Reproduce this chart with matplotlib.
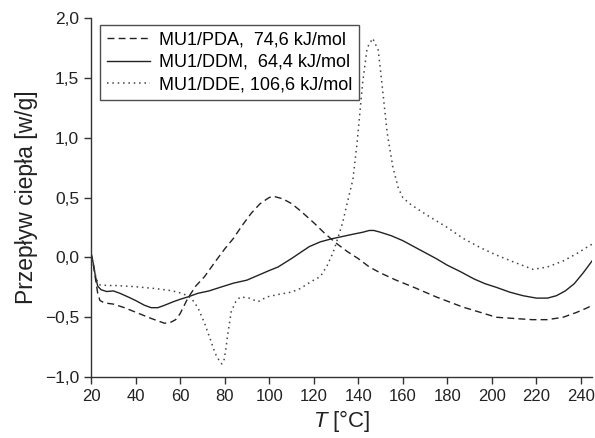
import matplotlib
matplotlib.use("Agg")
import matplotlib.pyplot as plt
from matplotlib.ticker import FuncFormatter, MultipleLocator

plt.rcParams['font.family'] = ['Liberation Sans', 'DejaVu Sans']
plt.rcParams['mathtext.fontset'] = 'custom'
plt.rcParams['mathtext.rm'] = 'Liberation Sans'
plt.rcParams['mathtext.it'] = 'Liberation Sans:italic'

# MU1/PDA (dashed)
T_pda = [20, 21, 22, 23, 24, 26, 30, 35, 41, 47, 53, 56, 58, 60, 63.5, 67, 71, 76, 80, 84,
         88, 92, 96, 100, 102, 106, 110, 114, 120, 125, 130, 135, 140, 145, 150, 157, 165,
         175, 187, 195, 202, 210, 218, 225, 232, 238, 243, 245]
q_pda = [0.03, -0.05, -0.18, -0.30, -0.36, -0.38, -0.39, -0.42, -0.465, -0.51, -0.55, -0.54,
         -0.52, -0.47, -0.34, -0.24, -0.16, -0.03, 0.07, 0.16, 0.27, 0.37, 0.45, 0.50, 0.51,
         0.49, 0.45, 0.39, 0.29, 0.20, 0.12, 0.05, -0.01, -0.08, -0.13, -0.19, -0.25, -0.33,
         -0.415, -0.46, -0.50, -0.51, -0.52, -0.52, -0.50, -0.46, -0.42, -0.40]

# MU1/DDM (solid)
T_ddm = [20, 21, 22, 23, 24.5, 27, 30, 33, 36.6, 40, 44, 47, 50, 53, 57, 60, 63.5, 68, 73, 78,
         84, 90, 95, 100, 104, 110, 114, 118, 123, 128, 133, 138, 142, 145, 147, 150, 155,
         160, 165, 170, 175, 180, 186, 192, 197, 202, 208, 214, 220, 225, 229, 233, 237,
         241, 245]
q_ddm = [0.04, -0.05, -0.16, -0.24, -0.27, -0.285, -0.28, -0.30, -0.33, -0.36, -0.40, -0.42,
         -0.42, -0.40, -0.37, -0.35, -0.33, -0.30, -0.28, -0.25, -0.215, -0.19, -0.15, -0.11,
         -0.08, -0.01, 0.04, 0.09, 0.13, 0.155, 0.175, 0.195, 0.21, 0.225, 0.225, 0.21, 0.18,
         0.14, 0.09, 0.04, -0.01, -0.065, -0.12, -0.18, -0.22, -0.25, -0.29, -0.32, -0.34,
         -0.34, -0.32, -0.28, -0.22, -0.13, -0.03]

# MU1/DDE (dotted)
T_dde = [20, 21, 22, 23, 24, 28, 31, 40, 48.7, 55, 59, 62, 65, 68, 71, 73.5, 75.7, 77.5, 78.7,
         79.7, 80.5, 81.5, 83, 85, 87, 91, 95, 99, 104, 110, 114, 119, 123, 126, 128.7, 131,
         133, 135, 137.6, 139.5, 142, 144, 146.5, 149, 150.6, 153, 155.6, 158, 160, 163, 167,
         172, 180, 187, 195, 202, 210, 218.5, 225, 232, 238, 244, 245]
q_dde = [0.03, -0.06, -0.15, -0.21, -0.23, -0.235, -0.235, -0.245, -0.26, -0.275, -0.29,
         -0.31, -0.34, -0.42, -0.55, -0.68, -0.80, -0.86, -0.89, -0.86, -0.77, -0.63, -0.45,
         -0.37, -0.33, -0.34, -0.37, -0.33, -0.31, -0.29, -0.26, -0.20, -0.16, -0.07, 0.04,
         0.17, 0.29, 0.45, 0.65, 0.96, 1.46, 1.75, 1.83, 1.73, 1.46, 1.04, 0.75, 0.58, 0.50,
         0.45, 0.40, 0.34, 0.25, 0.16, 0.08, 0.02, -0.04, -0.10, -0.08, -0.03, 0.03, 0.10, 0.11]

labels = ["MU1/PDA,  74,6 kJ/mol", "MU1/DDM,  64,4 kJ/mol", "MU1/DDE, 106,6 kJ/mol"]
x_ticks = list(range(20, 241, 20))

fig = plt.figure(figsize=(5.95, 4.38), dpi=100)
ax = fig.add_axes([0.153, 0.139, 0.842, 0.82])

ax.plot(T_pda, q_pda, color='#222222', lw=1.0, ls=(0, (5, 3)), label=labels[0])
ax.plot(T_ddm, q_ddm, color='#222222', lw=1.0, ls='-', label=labels[1])
ax.plot(T_dde, q_dde, color='#444444', lw=1.1, ls=(0, (1, 2.5)), label=labels[2])

ax.set_xlim(20, 245)
ax.set_ylim(-1.0, 2.0)
ax.set_xticks(x_ticks)
ax.yaxis.set_major_locator(MultipleLocator(0.5))
ax.yaxis.set_major_formatter(FuncFormatter(
    lambda v, p: f"{v:.1f}".replace('.', ',').replace('-', '\u2212')))

for s in ['top', 'right']:
    ax.spines[s].set_visible(False)
for s in ['left', 'bottom']:
    ax.spines[s].set_color('#333333')
    ax.spines[s].set_linewidth(1.0)
ax.tick_params(direction='out', length=5, width=1, colors='#333333',
               labelsize=12.5, labelcolor='#222222')
ax.tick_params(axis='x', labelsize=12)

ax.set_xlabel('$\\mathit{T}$ [°C]', fontsize=16, color='#222222', labelpad=3)
ax.set_ylabel('Przepływ ciepła [w/g]', fontsize=16.5, color='#222222', labelpad=5)

leg = ax.legend(loc='upper left', bbox_to_anchor=(0.008, 0.995), fontsize=13,
                frameon=True, fancybox=False, edgecolor='#222222',
                handlelength=2.4, handletextpad=0.5, borderpad=0.35,
                labelspacing=0.3, borderaxespad=0.3)
leg.get_frame().set_linewidth(1.0)

fig.savefig('out.png', dpi=100)
